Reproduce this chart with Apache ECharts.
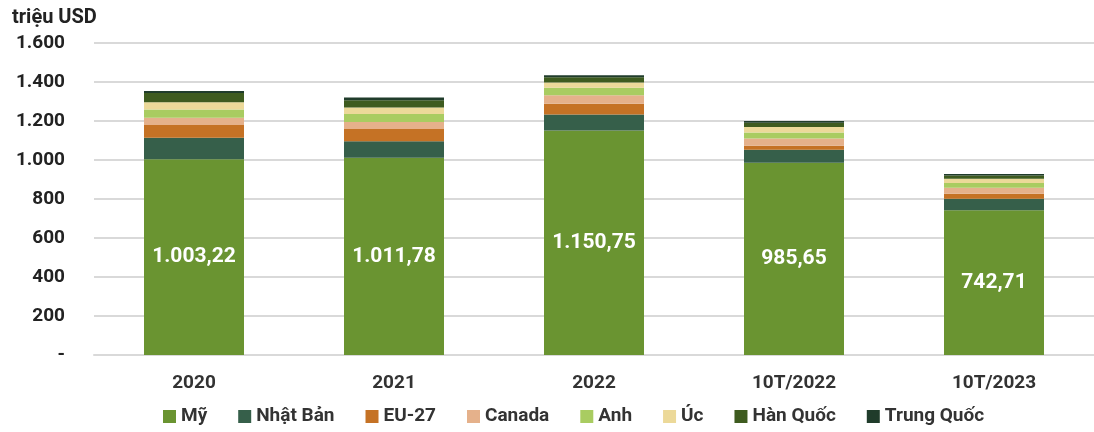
<!DOCTYPE html>
<html>
<head>
<meta charset="utf-8">
<script src="https://cdn.jsdelivr.net/npm/echarts@6/dist/echarts.min.js"></script>
<style>
  html, body { margin: 0; padding: 0; background: #fff; }
  #chart { width: 1094px; height: 432px; }
</style>
</head>
<body>
<div id="chart"></div>
<script>
// dữ liệu
var categories = ['2020', '2021', '2022', '10T/2022', '10T/2023']
var seriesNames = ['Mỹ', 'Nhật Bản', 'EU-27', 'Canada', 'Anh', 'Úc', 'Hàn Quốc', 'Trung Quốc']
var my = [1003.22, 1011.78, 1150.75, 985.65, 742.71]
var nhatBan = [111, 84, 82, 67, 58]
var eu27 = [65, 63, 56, 21, 26]
var canada = [37, 36, 43, 37, 31]
var anh = [43, 41, 39, 31, 24]
var uc = [37, 34, 27, 27, 22]
var hanQuoc = [48, 37, 27, 22, 17]
var trungQuoc = [10, 14, 10, 9, 7]
var yTicks = [0, 200, 400, 600, 800, 1000, 1200, 1400, 1600]

var colors = ['#6a9431', '#365f4a', '#c57225', '#e5b18b', '#a9cc61', '#ecd999', '#3e5b1f', '#203c2b']
var values = [my, nhatBan, eu27, canada, anh, uc, hanQuoc, trungQuoc]
var FONT = 'Roboto'

function fmtNum(v, dec) {
  var parts = v.toFixed(dec).split('.')
  var s = parts[0].replace(/\B(?=(\d{3})+(?!\d))/g, '.')
  return parts.length > 1 ? s + ',' + parts[1] : s
}

var myChart = echarts.init(document.getElementById('chart'), null, { renderer: 'canvas' })

var series = seriesNames.map(function (name, i) {
  var s = {
    name: name,
    type: 'bar',
    stack: 'total',
    barWidth: '50%',
    itemStyle: { color: colors[i] },
    data: values[i],
  }
  if (i === 0) {
    s.label = {
      show: true,
      position: 'inside',
      color: '#fff',
      fontFamily: FONT,
      fontWeight: 'bold',
      fontSize: 21,
      formatter: function (p) { return fmtNum(p.value, 2) },
    }
  }
  return s
})

var option = {
  animation: false,
  color: colors,
  title: {
    text: 'triệu USD',
    left: 7,
    top: 3,
    textStyle: { fontFamily: FONT, fontWeight: 'bold', fontSize: 20, color: '#222' },
  },
  legend: {
    bottom: 1,
    left: 158,
    itemWidth: 13,
    itemHeight: 13,
    itemGap: 31,
    icon: 'rect',
    textStyle: { fontFamily: FONT, fontWeight: 'bold', fontSize: 19, color: '#333' },
    data: seriesNames,
  },
  grid: {
    left: 94,
    top: 43,
    width: 1007,
    height: 312,
    containLabel: false,
  },
  xAxis: {
    type: 'category',
    data: categories,
    axisTick: { show: false },
    axisLine: { show: true, lineStyle: { color: '#d9d9d9', width: 2 } },
    axisLabel: { margin: 19, fontFamily: FONT, fontWeight: 'bold', fontSize: 19, color: '#333' },
  },
  yAxis: {
    type: 'value',
    min: yTicks[0],
    max: yTicks[yTicks.length - 1],
    interval: 200,
    axisLine: { show: false },
    axisTick: { show: false },
    splitLine: { lineStyle: { color: '#d9d9d9', width: 2 } },
    axisLabel: {
      margin: 29,
      fontFamily: FONT,
      fontWeight: 'bold',
      fontSize: 19,
      color: '#222',
      formatter: function (v) { return v === 0 ? '-' : fmtNum(v, 0) },
    },
  },
  series: series,
}

myChart.setOption(option)
</script>
</body>
</html>
